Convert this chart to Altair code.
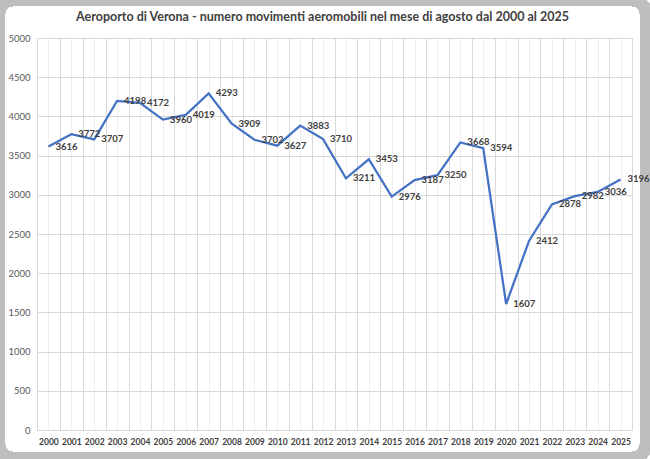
import altair as alt
import pandas as pd

years = list(range(2000, 2026))
movements = [3616, 3772, 3707, 4198, 4172, 3960, 4019, 4293, 3909, 3702,
             3627, 3883, 3710, 3211, 3453, 2976, 3187, 3250, 3668, 3594,
             1607, 2412, 2878, 2982, 3036, 3196]
y_ticks = list(range(0, 5001, 500))
x_grid = [1999.5 + 0.5 * i for i in range(53)]
title_text = "Aeroporto di Verona - numero movimenti aeromobili nel mese di agosto dal 2000 al 2025"

df = pd.DataFrame({"anno": years, "movimenti": movements})

FONT = "Lato"

x_enc = alt.X(
    "anno:Q",
    scale=alt.Scale(domain=[1999.5, 2025.5], nice=False, zero=False),
    axis=alt.Axis(
        values=x_grid,
        labelExpr="datum.value % 1 == 0 ? toString(datum.value) : ''",
        labelOverlap=False,
        labelFlush=False,
        labelBound=False,
        title=None,
        domain=False,
        ticks=False,
        labelPadding=7,
        labelFontSize=8.5,
        labelFontWeight="bold",
        labelColor="#404040",
        labelFont=FONT,
        gridColor={"condition": {"test": "datum.value % 1 != 0", "value": "#d9d9d9"}, "value": "#eeeeee"},
        gridWidth=1,
    ),
)
y_enc = alt.Y(
    "movimenti:Q",
    scale=alt.Scale(domain=[0, 5000], nice=False),
    axis=alt.Axis(
        values=y_ticks,
        format="d",
        title=None,
        domain=False,
        ticks=False,
        labelPadding=7,
        labelFontSize=9.5,
        labelColor="#595959",
        labelFont=FONT,
        gridColor="#d9d9d9",
    ),
)

base = alt.Chart(df).encode(x=x_enc, y=y_enc)

line = base.mark_line(color="#4472C4", strokeWidth=2.25)
labels = base.mark_text(
    align="left", baseline="middle", dx=7, font=FONT, fontSize=9.5,
    fontWeight="bold", color="#404040"
).encode(text=alt.Text("movimenti:Q", format="d"))

frame = alt.Chart(df).mark_rect(
    fillOpacity=0, stroke="#bebebe", strokeWidth=12, cornerRadius=14
).encode(
    x=alt.value(-38), x2=alt.value(609),
    y=alt.value(-38), y2=alt.value(420),
)

chart = alt.layer(frame, line, labels).properties(
    width=595,
    height=392,
    title=alt.TitleParams(
        title_text, font=FONT, fontSize=12.5, fontWeight="bold", color="#404040",
        anchor="middle", dx=-12, offset=-29,
    ),
    autosize=alt.AutoSizeParams(type="none"),
    padding={"left": 37, "top": 38, "right": 18, "bottom": 29},
    background="white",
).configure_view(stroke=None)

chart.save("out.html", embed_options={"renderer": "svg", "actions": False})
